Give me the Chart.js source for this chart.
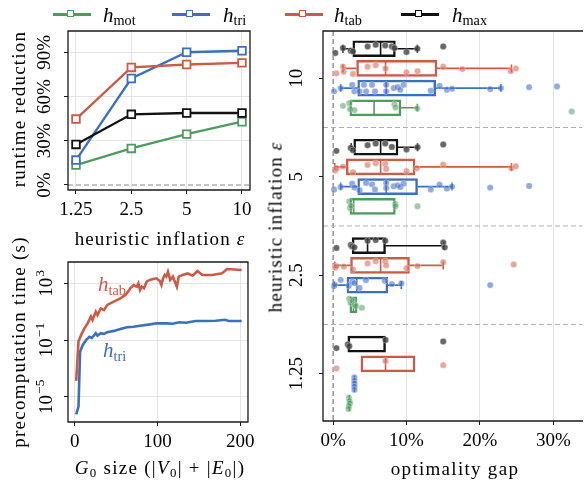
<!DOCTYPE html>
<html><head><meta charset="utf-8">
<script src="https://cdn.jsdelivr.net/npm/chart.js@4.4.1/dist/chart.umd.min.js"></script>
<style>
html,body{margin:0;padding:0;background:#fff;}
#wrap{position:relative;width:587px;height:483px;overflow:hidden;background:#fff;font-family:"Liberation Serif",serif;color:#000;}
#wrap canvas{position:absolute;}
.t{position:absolute;white-space:nowrap;font-size:19px;line-height:1;}
.c{transform:translate(-50%,-50%);}
.r{transform:translate(-50%,-50%) rotate(-90deg);}
.lm{position:absolute;white-space:nowrap;font-size:21px;line-height:1;transform:translateY(-50%);}
.lm sub,.t sub{font-size:68%;vertical-align:-0.28em;line-height:0;font-style:normal;}
.ll{position:absolute;height:2.4px;top:13.3px;width:38px;}
.lq{position:absolute;width:5px;height:5px;border:1.8px solid;background:#fff;top:9.8px;}
</style></head><body>
<div id="wrap">
<canvas id="cA" width="260" height="250" style="left:0;top:0;"></canvas>
<canvas id="cB" width="260" height="233" style="left:0;top:250px;"></canvas>
<canvas id="cC" width="327" height="483" style="left:260px;top:0;"></canvas>

<div class="ll" style="left:53px;background:#4f9a5f"></div><div class="lq" style="left:67px;border-color:#4f9a5f"></div>
<div class="lm" style="left:103px;top:15px"><i>h</i><sub>mot</sub></div>
<div class="ll" style="left:172px;background:#3d6fc0"></div><div class="lq" style="left:186px;border-color:#3d6fc0"></div>
<div class="lm" style="left:223px;top:15px"><i>h</i><sub>tri</sub></div>
<div class="ll" style="left:285px;background:#cc5a45"></div><div class="lq" style="left:299px;border-color:#cc5a45"></div>
<div class="lm" style="left:334px;top:15px"><i>h</i><sub>tab</sub></div>
<div class="ll" style="left:401px;background:#111"></div><div class="lq" style="left:415px;border-color:#111"></div>
<div class="lm" style="left:452px;top:15px"><i>h</i><sub>max</sub></div>

<div class="t r" data-w="157" style="left:18px;top:109px;">runtime reduction</div>
<div class="t c" data-w="171" style="left:160px;top:238px;">heuristic inflation <i>ε</i></div>
<div class="t r" data-w="212" style="left:18px;top:342px;">precomputation time (s)</div>
<div class="t c" data-w="170" style="left:160px;top:467px;"><i>G</i><sub>0</sub> size (|<i>V</i><sub>0</sub>| + |<i>E</i><sub>0</sub>|)</div>
<div class="t" style="left:98px;top:274px;color:#cc5a45;font-size:21px;"><i>h</i><sub>tab</sub></div>
<div class="t" style="left:103px;top:340px;color:#3d6fc0;font-size:21px;"><i>h</i><sub>tri</sub></div>
<div class="t c" data-w="128" style="left:455px;top:468px;">optimality gap</div>
<div class="t r" data-w="171" style="left:275px;top:227px;">heuristic inflation <i>ε</i></div>
</div>
<script>
// ---------- data ----------
const inflationLevels = [1.25, 2.5, 5, 10];
const inflationLabels = ['1.25', '2.5', '5', '10'];
const runtimeMot = [13.5, 24.8, 34.5, 42.9];
const runtimeTri = [16.9, 72.2, 90.0, 91.0];
const runtimeTab = [44.7, 79.7, 81.7, 82.8];
const runtimeMax = [27.5, 47.9, 48.8, 48.8];
const runtimeTicks = [0, 30, 60, 90];
const runtimeTickLabels = ['0%', '30%', '60%', '90%'];

const g0SizeTab = [1.6, 4.4, 7.5, 11.5, 15.4, 19.4, 21.4, 25.3, 27.3, 31.3, 35.2, 39.2, 47.1, 55, 61, 65, 67, 71, 74.9, 76.8, 78.8, 80.8, 83.6, 86.7, 90.7, 94.7, 98.6, 102.6, 104.6, 106.5, 108.5, 110.5, 112.5, 115.2, 118.4, 121.6, 123.2, 125.5, 130.3, 136.2, 142.2, 148.1, 154, 166, 177.8, 183.8, 201.6];
const precompTab = [1.3e-4, 0.08, 0.22, 0.66, 1.5, 4.5, 2.6, 10, 5.8, 17, 13, 30, 51, 87, 150, 290, 450, 760, 575, 1000, 340, 575, 450, 1300, 1740, 2000, 2240, 1450, 760, 2240, 3900, 2950, 6600, 1740, 2950, 1000, 575, 2950, 3900, 5000, 3470, 7400, 3900, 3900, 5000, 10200, 8700];
const g0SizeTri = [1.6, 4.4, 6.3, 9.5, 13.5, 17.4, 20.5, 23.4, 25.3, 27.3, 31.3, 35, 39.2, 47.1, 55, 63, 70.9, 78.8, 90.7, 98.6, 110.5, 118, 126.3, 134, 146, 158, 170, 181.8, 185.7, 201.6];
const precompTri = [5.6e-7, 2e-6, 0.015, 0.045, 0.1, 0.17, 0.14, 0.22, 0.3, 0.2, 0.3, 0.27, 0.35, 0.44, 0.6, 0.8, 0.87, 1.02, 1.26, 1.5, 1.5, 1.4, 1.78, 1.66, 2.2, 2.2, 2.3, 2.7, 2.2, 2.2];
const g0Ticks = [0, 100, 200];
const precompTicks = [1e-5, 1e-1, 1e3];
const precompTickExps = ['\u22125', '\u22121', '3'];

const gapCategories = ['10', '5', '2.5', '1.25'];
const gapTicks = [0, 10, 20, 30];
const gapTickLabels = ['0%', '10%', '20%', '30%'];
// box stats per category: [whiskerLow, q1, median, q3, whiskerHigh]  (optimality gap %)
const boxMax = [[1.34, 2.68, 6.47, 8.48, 11.47], [2.46, 2.81, 6.47, 8.84, 11.5], [2.59, 2.59, 4.69, 7.14, 15.1], [2.0, 2.0, 2.2, 7.14, 7.14]];
const boxTab = [[1.34, 3.2, 7.14, 14.15, 24.3], [0.22, 1.79, 6.47, 11.16, 24.3], [0.22, 2.37, 6.47, 10.4, 15.0], [3.79, 3.79, 7.14, 11.16, 11.16]];
const boxTri = [[1.03, 3.35, 7.23, 13.97, 22.86], [1.03, 3.35, 7.23, 11.5, 16.2], [0.13, 1.88, 3.21, 7.46, 9.29], [2.85, 2.88, 2.9, 2.93, 2.95]];
const boxMot = [[2.28, 2.28, 5.58, 9.24, 11.47], [2.28, 2.28, 2.8, 8.48, 8.48], [2.28, 2.28, 2.77, 3.26, 3.26], [2.1, 2.15, 2.2, 2.25, 2.3]];
// individual runs per category: [gap %, vertical jitter (hundredths of a band)]
const ptsMax = [
  [[0.3,4.3],[1.34,-0.7],[2.4,2],[2.7,2.7],[4.7,-2.3],[5.8,-4],[7.1,-3.3],[8.0,-2.3],[8.35,-0.7],[10.0,3.3],[11.47,0],[15.0,-2.3]],
  [[0.45,3.7],[2.4,0.7],[2.7,3],[4.7,-2],[5.8,-3.7],[7.1,-3.7],[8.0,-0.3],[10.0,2.3],[11.5,0],[15.0,-2.7]],
  [[0.45,2.3],[2.4,-0.7],[2.6,0.7],[2.9,1.7],[4.7,-5],[5.8,-5.7],[7.1,-5],[15.0,-3.3],[15.2,1.7]],
  [[0.45,4],[2.0,0.3],[2.2,2],[7.14,-4.3],[15.0,-2.7]]];
const ptsTab = [
  [[0.45,5],[1.34,-1.7],[1.43,3.3],[2.7,5.7],[4.7,-1.7],[5.8,-3.3],[7.14,0],[10.0,4],[11.5,2.7],[15.0,-1.7],[17.6,0.7],[24.2,2.7],[24.9,0]],
  [[0.3,3.7],[0.45,1.3],[1.34,-0.3],[2.7,5.3],[4.7,-2],[5.8,-3.7],[7.1,-3],[7.23,2],[10.0,4.3],[11.4,1.3],[15.0,-2.3],[24.3,1.3],[24.9,-0.7]],
  [[0.3,2.3],[0.45,0.7],[1.47,1.3],[2.7,4],[4.7,-2],[5.8,-4.3],[7.1,-4.3],[7.23,0],[10.0,3],[11.5,0.7],[15.0,-3.3],[24.6,-1]],
  [[0.45,4.7],[7.14,-3],[15.0,1.3]]];
const ptsTri = [
  [[0.13,3.3],[1.03,0],[2.6,-3.3],[2.9,3.3],[3.6,3.3],[4.2,-3.3],[4.5,3.3],[5.3,-3.3],[5.7,3.3],[7.23,-3.3],[7.23,3.3],[8.26,0],[8.8,-1],[9.15,1.7],[9.6,-3.3],[13.3,2.7],[14.5,-2.3],[15.5,1.7],[16.2,0.7],[21.4,1],[22.86,0],[26.7,-1],[30.5,-1.7]],
  [[0.13,3],[1.03,0.3],[2.6,-3],[2.9,1],[3.6,3.7],[4.5,-3.7],[5.3,-2.3],[5.7,3],[7.23,-3.7],[7.23,1.3],[8.26,-0.3],[8.8,-1.3],[9.15,0.3],[9.6,-3],[13.3,3],[14.5,-2],[15.5,2],[16.2,0],[21.4,1],[26.7,-0.7]],
  [[0.13,1],[0.22,-0.5],[1.03,-5.3],[2.14,0.7],[2.6,-3.3],[2.9,-2],[3.6,3],[4.46,-5],[7.05,-4.3],[8.0,-1],[9.29,-1.7],[21.4,0]],
  [[2.9,-6.3],[2.9,-3],[2.9,0],[2.9,3],[2.9,6.3]]];
const ptsMot = [
  [[1.34,-2],[2.2,-4.7],[2.3,1.3],[2.9,2.3],[8.35,-3.7],[8.5,-0.3],[11.47,0.7],[32.5,3.7]],
  [[2.2,-5],[2.3,1.7],[2.45,-0.7],[8.48,-2.3],[8.5,0],[11.5,0]],
  [[2.2,-6.3],[2.37,-2],[2.68,-4],[2.9,0.3],[3.13,1.3],[3.93,3]],
  [[2.15,-5.7],[2.23,-2.3],[2.3,0],[2.15,2.7],[2.1,5.7]]];

// ---------- style ----------
const GREEN = '#4f9a5f', BLUE = '#3d6fc0', RED = '#cc5a45', BLACK = '#111111';
const GRID = '#e4e4e4', SPINE = '#1a1a1a';
const FONT = '19px "Liberation Serif"';
Chart.defaults.font.family = '"Liberation Serif", serif';
Chart.defaults.font.size = 19;
Chart.defaults.color = '#000';

// fit title widths to the reference
document.querySelectorAll('[data-w]').forEach(el => {
  const target = +el.dataset.w, nat = el.offsetWidth, n = el.textContent.length;
  el.style.letterSpacing = ((target - nat) / n).toFixed(2) + 'px';
});

const framePlugin = { id: 'frame', afterDraw(chart, a, o) {
  const { ctx, chartArea: c } = chart; const s = o.sides || 'ltrb';
  ctx.save(); ctx.strokeStyle = SPINE; ctx.lineWidth = 1.3; ctx.beginPath();
  if (s.includes('l')) { ctx.moveTo(c.left, c.top); ctx.lineTo(c.left, c.bottom); }
  if (s.includes('r')) { ctx.moveTo(c.right, c.top); ctx.lineTo(c.right, c.bottom); }
  if (s.includes('t')) { ctx.moveTo(c.left - 0.6, c.top); ctx.lineTo(c.right + 0.6, c.top); }
  if (s.includes('b')) { ctx.moveTo(c.left - 0.6, c.bottom); ctx.lineTo(c.right + 0.6, c.bottom); }
  ctx.stroke(); ctx.restore(); } };

const yLabelPlugin = { id: 'ylabels', afterDraw(chart, a, o) {
  const sc = chart.scales.y, ctx = chart.ctx;
  ctx.save(); ctx.fillStyle = '#000';
  sc.ticks.forEach((t, i) => {
    const py = sc.getPixelForValue(t.value);
    ctx.save(); ctx.translate(o.x, py); ctx.rotate(-Math.PI / 2);
    if (o.exps) {
      ctx.font = FONT; const w1 = ctx.measureText('10').width;
      ctx.font = '13.5px "Liberation Serif"'; const w2 = ctx.measureText(o.exps[i]).width;
      const tot = w1 + w2 + 1;
      ctx.textAlign = 'left'; ctx.textBaseline = 'alphabetic';
      ctx.font = FONT; ctx.fillText('10', -tot / 2, 6.5);
      ctx.font = '13.5px "Liberation Serif"'; ctx.fillText(o.exps[i], -tot / 2 + w1 + 1, -1.5);
    } else {
      ctx.font = FONT; ctx.textAlign = 'center'; ctx.textBaseline = 'middle';
      ctx.fillText(o.labels[i], 0, 0);
    }
    ctx.restore();
  });
  ctx.restore(); } };

const dashPlugin = { id: 'dashes', beforeDatasetsDraw(chart, a, o) {
  const ctx = chart.ctx, c = chart.chartArea;
  (o.lines || []).forEach(l => {
    ctx.save(); ctx.strokeStyle = l.color; ctx.lineWidth = 1.2; ctx.setLineDash([5, 3]); ctx.beginPath();
    if (l.axis === 'y') { const p = chart.scales.y.getPixelForValue(l.value); ctx.moveTo(c.left, p); ctx.lineTo(c.right, p); }
    else { const p = chart.scales.x.getPixelForValue(l.value); ctx.moveTo(p, c.top); ctx.lineTo(p, c.bottom); }
    ctx.stroke(); ctx.restore();
  }); } };

function fixedY(w) { return s => { s.width = w; }; }
function fixedX(h) { return s => { s.height = h; }; }
const tickGrid = (extra) => Object.assign({ color: GRID, lineWidth: 1, tickColor: SPINE, tickLength: 4, tickWidth: 1, offset: false }, extra || {});

// ---------- chart A: runtime reduction ----------
function lineDs(label, vals, color, order) {
  return { label, data: inflationLevels.map((x, i) => ({ x, y: vals[i] })), borderColor: color, borderWidth: 2.3,
    pointStyle: 'rect', pointRadius: 5.4, pointBorderWidth: 1.8, pointBackgroundColor: '#fff', pointBorderColor: color, order };
}
new Chart(document.getElementById('cA'), {
  type: 'line',
  data: { datasets: [lineDs('h_mot', runtimeMot, GREEN, 4), lineDs('h_tri', runtimeTri, BLUE, 3), lineDs('h_tab', runtimeTab, RED, 2), lineDs('h_max', runtimeMax, BLACK, 1)] },
  options: {
    responsive: false, animation: false, devicePixelRatio: 1, events: [],
    layout: { padding: { top: 31, right: 10, left: 0, bottom: 0 } },
    plugins: { legend: { display: false }, tooltip: { enabled: false },
      ylabels: { x: 45, labels: runtimeTickLabels },
      dashes: { lines: [{ axis: 'y', value: 0, color: '#8a8a8a' }] } },
    scales: {
      x: { type: 'logarithmic', min: 1.131, max: 11.055,
        afterBuildTicks: s => { s.ticks = inflationLevels.map(v => ({ value: v })); },
        ticks: { callback: (v, i) => inflationLabels[i], maxRotation: 0, autoSkip: false, padding: 5, font: { size: 19 } },
        grid: tickGrid(), border: { display: false }, afterFit: fixedX(60) },
      y: { type: 'linear', min: -3.39, max: 104.4,
        afterBuildTicks: s => { s.ticks = runtimeTicks.map(v => ({ value: v })); },
        ticks: { display: false },
        grid: tickGrid({ color: c => c.tick && c.tick.value === 0 ? 'rgba(0,0,0,0)' : GRID }), border: { display: false }, afterFit: fixedY(68) }
    }
  },
  plugins: [dashPlugin, framePlugin, yLabelPlugin]
});

// ---------- chart B: precomputation time ----------
new Chart(document.getElementById('cB'), {
  type: 'line',
  data: { datasets: [
    { label: 'h_tab', data: g0SizeTab.map((x, i) => ({ x, y: precompTab[i] })), borderColor: RED, borderWidth: 2.6, pointRadius: 0, tension: 0 },
    { label: 'h_tri', data: g0SizeTri.map((x, i) => ({ x, y: precompTri[i] })), borderColor: BLUE, borderWidth: 2.6, pointRadius: 0, tension: 0 } ] },
  options: {
    responsive: false, animation: false, devicePixelRatio: 1, events: [],
    layout: { padding: { top: 12, right: 9, left: 0, bottom: 0 } },
    plugins: { legend: { display: false }, tooltip: { enabled: false }, ylabels: { x: 45, exps: precompTickExps } },
    scales: {
      x: { type: 'linear', min: -8.3, max: 209.2,
        afterBuildTicks: s => { s.ticks = g0Ticks.map(v => ({ value: v })); },
        ticks: { callback: v => String(v), maxRotation: 0, autoSkip: false, padding: 5, font: { size: 19 } },
        grid: tickGrid(), border: { display: false }, afterFit: fixedX(61) },
      y: { type: 'logarithmic', min: 1.64e-7, max: 31850,
        afterBuildTicks: s => { s.ticks = precompTicks.map(v => ({ value: v })); },
        ticks: { display: false },
        grid: tickGrid(), border: { display: false }, afterFit: fixedY(68) }
    }
  },
  plugins: [framePlugin, yLabelPlugin]
});

// ---------- chart C: optimality gap boxes ----------
const hues = [
  { name: 'h_max', box: boxMax, pts: ptsMax, color: BLACK, pt: 'rgba(70,70,70,0.82)', off: -0.3 },
  { name: 'h_tab', box: boxTab, pts: ptsTab, color: RED, pt: 'rgba(214,110,90,0.6)', off: -0.1 },
  { name: 'h_tri', box: boxTri, pts: ptsTri, color: BLUE, pt: 'rgba(70,115,200,0.6)', off: 0.1 },
  { name: 'h_mot', box: boxMot, pts: ptsMot, color: GREEN, pt: 'rgba(80,160,100,0.55)', off: 0.3 }];
const dsC = [];
hues.forEach((h, k) => {
  dsC.push({ type: 'bar', indexAxis: 'y', label: h.name + ' box', grouped: false, barThickness: 16,
    data: h.box.map((b, c) => ({ x: [b[1], b[3]], y: c + h.off })),
    backgroundColor: 'rgba(255,255,255,0)', borderColor: h.color, borderWidth: 1.8, borderSkipped: false, order: 10 + k });
});
hues.forEach((h, k) => {
  const pts = [];
  h.pts.forEach((list, c) => list.forEach(p => pts.push({ x: p[0], y: c + h.off + p[1] / 100 })));
  dsC.push({ type: 'scatter', label: h.name, data: pts, pointRadius: 3.2, pointBackgroundColor: h.pt,
    pointBorderColor: 'rgba(255,255,255,0.55)', pointBorderWidth: 0.6, showLine: false, order: k });
});
const boxPlugin = { id: 'whiskers', beforeDatasetsDraw(chart) {
  const ctx = chart.ctx, xs = chart.scales.x, ys = chart.scales.y;
  hues.forEach(h => h.box.forEach((b, c) => {
    const py = ys.getPixelForValue(c + h.off);
    const X = v => xs.getPixelForValue(v);
    ctx.save(); ctx.strokeStyle = h.color; ctx.lineWidth = 1.6; ctx.beginPath();
    if (b[0] < b[1]) { ctx.moveTo(X(b[0]), py); ctx.lineTo(X(b[1]), py); ctx.moveTo(X(b[0]), py - 4); ctx.lineTo(X(b[0]), py + 4); }
    if (b[4] > b[3]) { ctx.moveTo(X(b[3]), py); ctx.lineTo(X(b[4]), py); ctx.moveTo(X(b[4]), py - 4); ctx.lineTo(X(b[4]), py + 4); }
    ctx.moveTo(X(b[2]), py - 7.5); ctx.lineTo(X(b[2]), py + 7.5);
    ctx.stroke(); ctx.restore();
  })); } };
new Chart(document.getElementById('cC'), {
  type: 'scatter',
  data: { datasets: dsC },
  options: {
    responsive: false, animation: false, devicePixelRatio: 1, events: [],
    layout: { padding: { top: 31, right: 0, left: 0, bottom: 0 } },
    plugins: { legend: { display: false }, tooltip: { enabled: false },
      frame: { sides: 'ltb' },
      ylabels: { x: 37, labels: gapCategories },
      dashes: { lines: [{ axis: 'x', value: 0, color: '#7a7a7a' }, { axis: 'y', value: 0.5, color: '#b0b0b0' }, { axis: 'y', value: 1.5, color: '#b0b0b0' }, { axis: 'y', value: 2.5, color: '#b0b0b0' }] } },
    scales: {
      x: { type: 'linear', min: -1.38, max: 33.96, offset: false,
        afterBuildTicks: s => { s.ticks = gapTicks.map(v => ({ value: v })); },
        ticks: { callback: (v, i) => gapTickLabels[i], maxRotation: 0, autoSkip: false, padding: 5, font: { size: 19 } },
        grid: tickGrid({ color: c => c.tick && c.tick.value === 0 ? 'rgba(0,0,0,0)' : GRID }), border: { display: false }, afterFit: fixedX(62) },
      y: { type: 'linear', reverse: true, min: -0.48, max: 3.48, offset: false,
        afterBuildTicks: s => { s.ticks = gapCategories.map((v, i) => ({ value: i })); },
        ticks: { display: false },
        grid: tickGrid({ drawOnChartArea: false }), border: { display: false }, afterFit: fixedY(63) }
    }
  },
  plugins: [dashPlugin, boxPlugin, framePlugin, yLabelPlugin]
});
</script>
</body></html>
